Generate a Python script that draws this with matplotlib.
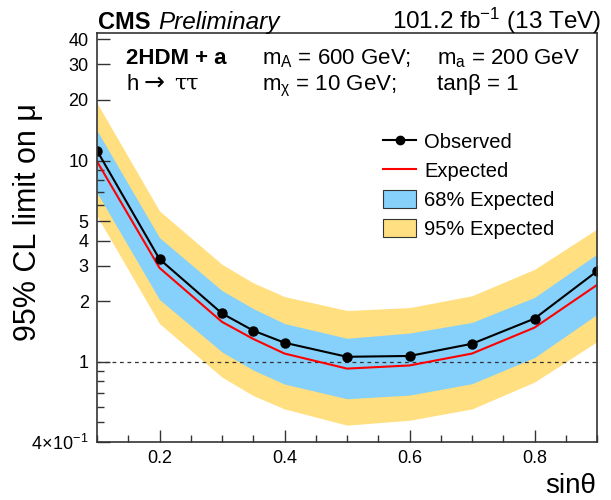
import numpy as np
import matplotlib
matplotlib.use('Agg')
import matplotlib.pyplot as plt
from matplotlib.lines import Line2D
from matplotlib.patches import Patch
from matplotlib.ticker import FixedLocator, NullFormatter, MultipleLocator

plt.rcParams['font.family'] = ['Liberation Sans', 'DejaVu Sans']
plt.rcParams['mathtext.fontset'] = 'custom'
plt.rcParams['mathtext.rm'] = 'Liberation Sans'
plt.rcParams['mathtext.it'] = 'Liberation Sans:italic'
plt.rcParams['mathtext.bf'] = 'Liberation Sans:bold'

# limits vs sin(theta)
sin_theta = [0.1, 0.2, 0.3, 0.35, 0.4, 0.5, 0.6, 0.7, 0.8, 0.9]
observed = [11.2, 3.24, 1.74, 1.43, 1.245, 1.06, 1.07, 1.23, 1.64, 2.82]
expected = [9.9, 2.93, 1.58, 1.30, 1.10, 0.926, 0.96, 1.10, 1.48, 2.41]
exp_68_up = [14.1, 4.14, 2.26, 1.84, 1.55, 1.31, 1.39, 1.57, 2.09, 3.43]
exp_68_dn = [6.93, 2.04, 1.12, 0.91, 0.776, 0.656, 0.684, 0.779, 1.05, 1.72]
exp_95_up = [19.3, 5.62, 3.05, 2.47, 2.11, 1.80, 1.86, 2.13, 2.88, 4.57]
exp_95_dn = [5.31, 1.55, 0.84, 0.68, 0.584, 0.485, 0.513, 0.584, 0.794, 1.26]

y_ticks = [0.4, 1, 2, 3, 4, 5, 10, 20, 30, 40]
y_tick_labels = [r'$4\!\times\!10^{-1}$', '1', '2', '3', '4', '5', '10', '20', '30', '40']

yellow = '#FFDF7F'
blue = '#85D1FB'

fig = plt.figure(figsize=(6.11, 5.0), dpi=100)
ax = fig.add_axes([97 / 611, 1 - 442 / 500, (597 - 97) / 611, (442 - 33) / 500])

ax.fill_between(sin_theta, exp_95_dn, exp_95_up, color=yellow, lw=0)
ax.fill_between(sin_theta, exp_68_dn, exp_68_up, color=blue, lw=0)
ax.axhline(1.0, color='#333333', ls=(0, (3, 3)), lw=0.9)
ax.plot(sin_theta, expected, color='#FF0000', lw=1.5)
ax.plot(sin_theta, observed, color='black', lw=1.5, marker='o', ms=6.5)

ax.set_yscale('log')
ax.set_xlim(0.1, 0.9)
ax.set_ylim(0.4, 43)

ax.yaxis.set_major_locator(FixedLocator(y_ticks))
ax.set_yticklabels(y_tick_labels)
minor_y = [0.5, 0.6, 0.7, 0.8, 0.9, 6, 7, 8, 9]
ax.yaxis.set_minor_locator(FixedLocator(minor_y))
ax.yaxis.set_minor_formatter(NullFormatter())
ax.xaxis.set_major_locator(FixedLocator([0.2, 0.4, 0.6, 0.8]))
ax.xaxis.set_minor_locator(MultipleLocator(0.05))

ax.tick_params(which='both', direction='in', top=False, right=False,
               labelsize=13, width=1.0, color='#333333')
ax.tick_params(which='major', length=9, pad=6)
ax.tick_params(which='minor', length=5)
for sp in ax.spines.values():
    sp.set_color('#333333')
    sp.set_linewidth(1.2)

fig.text(28 / 611, 1 - 222 / 500, '95% CL limit on μ', rotation=90,
         ha='center', va='center', fontsize=22)
fig.text(596 / 611, 1 - 493 / 500, 'sinθ', ha='right', va='baseline', fontsize=20)

# header
fig.text(98 / 611, 1 - 29 / 500, 'CMS', fontsize=17, fontweight='bold',
         ha='left', va='baseline')
fig.text(158 / 611, 1 - 29 / 500, 'Preliminary', fontsize=17.5, style='italic',
         ha='left', va='baseline')
fig.text(601 / 611, 1 - 29 / 500, r'101.2 fb$^{-1}$ (13 TeV)', fontsize=17.5,
         ha='right', va='baseline')

# model description
fig.text(126 / 611, 1 - 64 / 500, '2HDM + a', fontsize=16, fontweight='bold',
         ha='left', va='baseline')
fig.text(126 / 611, 1 - 90 / 500, 'h', fontsize=16, ha='left', va='baseline')
fig.text(144 / 611, 1 - 90 / 500, '→', fontsize=18, family='DejaVu Sans',
         ha='left', va='baseline')
fig.text(174 / 611, 1 - 90 / 500, 'ττ', fontsize=16, family='DejaVu Serif',
         ha='left', va='baseline')
fig.text(262 / 611, 1 - 64 / 500, r'm$_{\mathrm{A}}$ = 600 GeV;', fontsize=16,
         ha='left', va='baseline')
fig.text(437 / 611, 1 - 64 / 500, r'm$_{\mathrm{a}}$ = 200 GeV', fontsize=16,
         ha='left', va='baseline')
fig.text(262 / 611, 1 - 90 / 500, r'm$_{\mathrm{χ}}$ = 10 GeV;', fontsize=16,
         ha='left', va='baseline')
fig.text(437 / 611, 1 - 90 / 500, 'tanβ = 1', fontsize=16,
         ha='left', va='baseline')

handles = [
    Line2D([], [], color='black', lw=1.5, marker='o', ms=6),
    Line2D([], [], color='#FF0000', lw=1.5),
    Patch(facecolor=blue, edgecolor='#333333', lw=0.8),
    Patch(facecolor=yellow, edgecolor='#333333', lw=0.8),
]
labels = ['Observed', 'Expected', '68% Expected', '95% Expected']
ax.legend(handles, labels, loc='upper left', bbox_to_anchor=(0.556, 0.778),
          frameon=False, fontsize=14.5, handlelength=1.64, handleheight=1.0,
          handletextpad=0.4, labelspacing=0.45, borderaxespad=0)

fig.savefig('out.png', dpi=100)
